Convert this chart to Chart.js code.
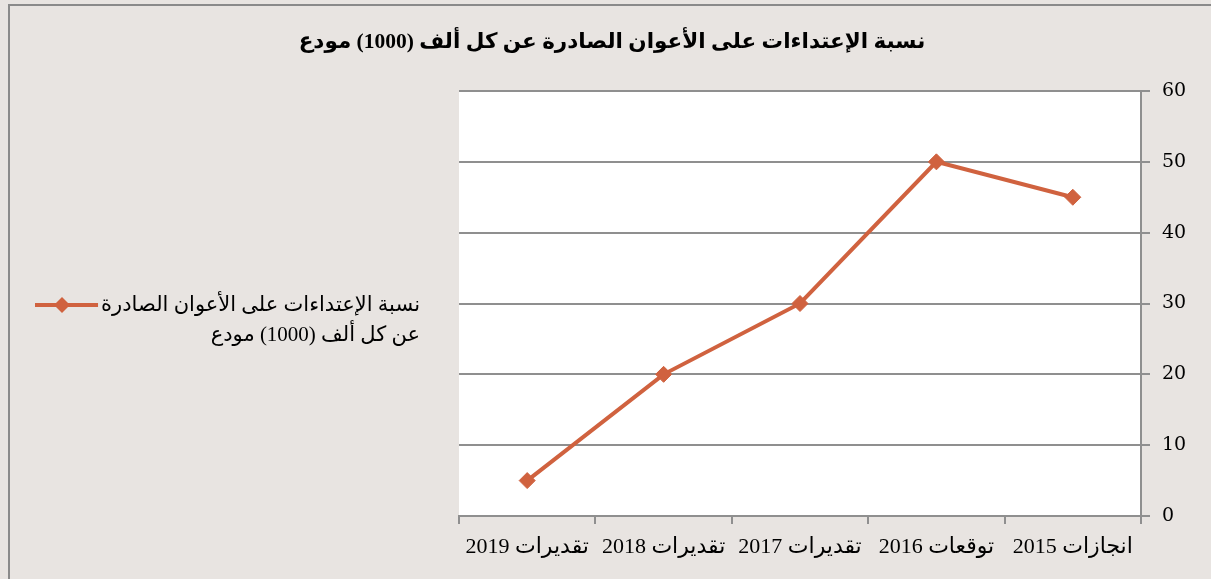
<!DOCTYPE html>
<html dir="rtl">
<head>
<meta charset="utf-8">
<script src="https://cdn.jsdelivr.net/npm/chart.js@4/dist/chart.umd.min.js"></script>
<style>
  html, body { margin: 0; padding: 0; background: #e8e4e1; }
  canvas { display: block; }
</style>
</head>
<body>
<canvas id="chart" width="1211" height="579"></canvas>
<script>
'use strict';

const chartTitle = 'نسبة الإعتداءات على الأعوان الصادرة عن كل ألف (1000) مودع';
const seriesName = 'نسبة الإعتداءات على الأعوان الصادرة عن كل ألف (1000) مودع';
const categories = ['انجازات 2015', 'توقعات 2016', 'تقديرات 2017', 'تقديرات 2018', 'تقديرات 2019'];
const values = [45, 50, 30, 20, 5];
const yTicks = [0, 10, 20, 30, 40, 50, 60];

const LINE_COLOR = '#d0623f';
const GRID_COLOR = '#8f8f8f';
const ARABIC_FONT = '"Liberation Serif", "DejaVu Sans", serif';

// white plot area + outer frame
const backdrop = {
    id: 'backdrop',
    beforeDraw(chart) {
        const ctx = chart.ctx;
        const a = chart.chartArea;
        ctx.save();
        ctx.fillStyle = '#e8e4e1';
        ctx.fillRect(0, 0, chart.width, chart.height);
        ctx.fillStyle = '#ffffff';
        ctx.fillRect(a.left, a.top, a.right - a.left, a.bottom - a.top);
        ctx.strokeStyle = '#8a8a8a';
        ctx.lineWidth = 2;
        ctx.beginPath();
        ctx.moveTo(9, chart.height);
        ctx.lineTo(9, 5);
        ctx.lineTo(chart.width, 5);
        ctx.stroke();
        ctx.restore();
    }
};

// title centred over the whole frame (the built-in one follows the left padding)
const frameTitle = {
    id: 'frameTitle',
    afterDraw(chart, args, opts) {
        const ctx = chart.ctx;
        ctx.save();
        ctx.font = 'bold 21.5px ' + ARABIC_FONT;
        ctx.fillStyle = '#000';
        ctx.textAlign = 'center';
        ctx.textBaseline = 'middle';
        ctx.fillText(opts.text, 612, 42);
        ctx.restore();
    }
};

// legend on the left, wrapped over two lines like the original
const sideLegend = {
    id: 'sideLegend',
    afterDraw(chart) {
        const ctx = chart.ctx;
        const ds = chart.data.datasets[0];
        ctx.save();
        ctx.font = '21px ' + ARABIC_FONT;
        ctx.fillStyle = '#000';
        ctx.textAlign = 'right';
        ctx.textBaseline = 'middle';
        const words = ds.label.split(' ');
        const lines = [];
        let cur = '';
        words.forEach(w => {
            const test = cur ? cur + ' ' + w : w;
            if (cur && ctx.measureText(test).width > 340) {
                lines.push(cur);
                cur = w;
            } else {
                cur = test;
            }
        });
        if (cur) lines.push(cur);
        const xRight = 420;
        const y0 = 305;
        lines.forEach((ln, i) => ctx.fillText(ln, xRight, y0 + i * 30));
        // marker
        const w1 = ctx.measureText(lines[0]).width;
        const x1 = 35, x2 = xRight - w1 - 3;
        ctx.strokeStyle = ds.borderColor;
        ctx.lineWidth = 4;
        ctx.beginPath();
        ctx.moveTo(x1, y0);
        ctx.lineTo(x2, y0);
        ctx.stroke();
        const cx = 62, r = 8;
        ctx.fillStyle = ds.borderColor;
        ctx.beginPath();
        ctx.moveTo(cx - r, y0);
        ctx.lineTo(cx, y0 - r);
        ctx.lineTo(cx + r, y0);
        ctx.lineTo(cx, y0 + r);
        ctx.closePath();
        ctx.fill();
        ctx.restore();
    }
};

new Chart(document.getElementById('chart'), {
    type: 'line',
    data: {
        labels: categories,
        datasets: [{
            label: seriesName,
            data: values,
            borderColor: LINE_COLOR,
            backgroundColor: LINE_COLOR,
            borderWidth: 4,
            tension: 0,
            pointStyle: 'rectRot',
            pointRadius: 8,
            pointHoverRadius: 8,
            pointBackgroundColor: LINE_COLOR,
            pointBorderColor: LINE_COLOR,
            pointBorderWidth: 1
        }]
    },
    options: {
        responsive: false,
        animation: false,
        layout: { padding: { left: 459, right: 0, top: 91, bottom: 0 } },
        plugins: {
            legend: { display: false },
            tooltip: { enabled: false },
            title: { display: false },
            frameTitle: { text: chartTitle }
        },
        scales: {
            x: {
                reverse: true,
                offset: true,
                border: { color: GRID_COLOR, width: 2 },
                grid: {
                    offset: true,
                    drawOnChartArea: false,
                    drawTicks: true,
                    tickLength: 8,
                    color: GRID_COLOR,
                    lineWidth: 2
                },
                ticks: {
                    color: '#000',
                    padding: 10,
                    maxRotation: 0,
                    autoSkip: false,
                    font: { family: ARABIC_FONT, size: 22 }
                },
                afterFit(scale) { scale.height = 63; }
            },
            y: {
                position: 'right',
                min: 0,
                max: 60,
                afterBuildTicks(scale) { scale.ticks = yTicks.map(v => ({ value: v })); },
                border: { color: GRID_COLOR, width: 2 },
                grid: {
                    color: GRID_COLOR,
                    lineWidth: 2,
                    tickLength: 9
                },
                ticks: {
                    color: '#000',
                    padding: 12,
                    font: { family: '"DejaVu Serif", serif', size: 19 }
                },
                afterFit(scale) { scale.width = 70; }
            }
        }
    },
    plugins: [backdrop, frameTitle, sideLegend]
});
</script>
</body>
</html>
